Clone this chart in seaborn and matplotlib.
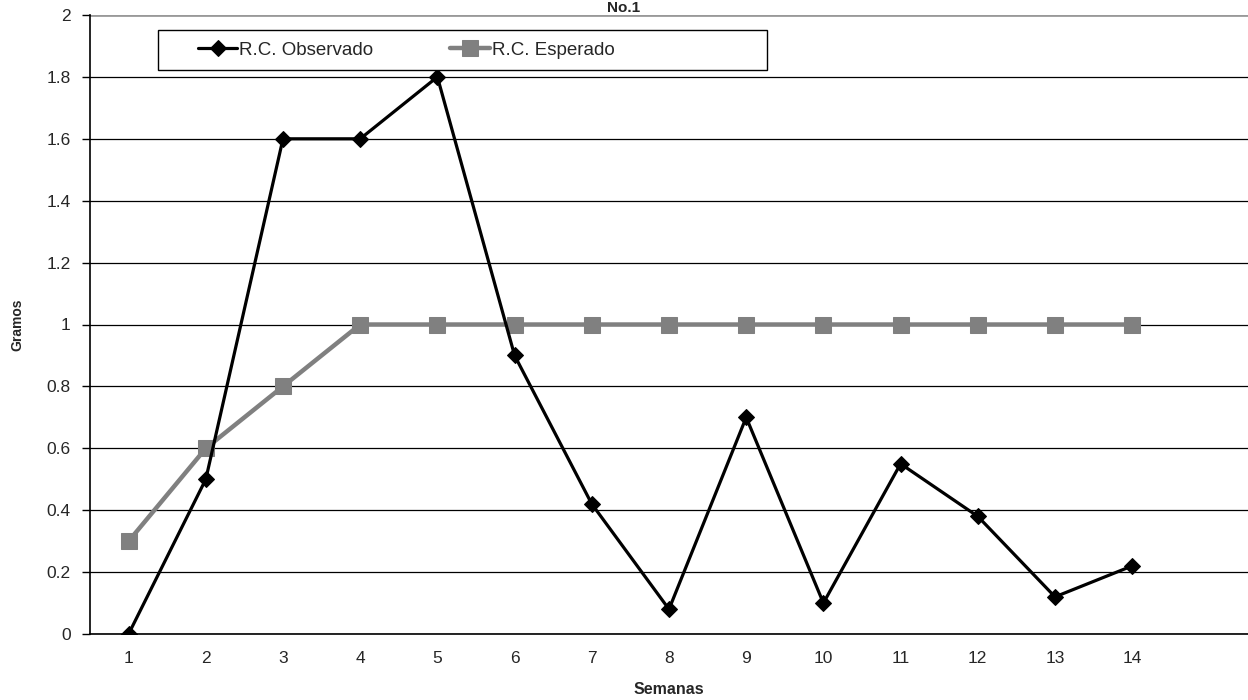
import pandas as pd
import seaborn as sns
import matplotlib.pyplot as plt
from matplotlib.patches import Rectangle

semanas = list(range(1, 15))
observado = [0, 0.5, 1.6, 1.6, 1.8, 0.9, 0.42, 0.08, 0.7, 0.1, 0.55, 0.38, 0.12, 0.22]
esperado = [0.3, 0.6, 0.8, 1, 1, 1, 1, 1, 1, 1, 1, 1, 1, 1]
y_ticks = [0, 0.2, 0.4, 0.6, 0.8, 1, 1.2, 1.4, 1.6, 1.8, 2]
y_labels = ["0", "0.2", "0.4", "0.6", "0.8", "1", "1.2", "1.4", "1.6", "1.8", "2"]

df = pd.DataFrame({"semana": semanas, "obs": observado, "esp": esperado})

sns.set_style("white")
plt.rcParams["font.family"] = ["Liberation Sans", "DejaVu Sans"]

fig = plt.figure(figsize=(12.48, 7), dpi=100)
ax = fig.add_axes([90 / 1248, 66 / 700, 1158 / 1248, 619 / 700])

# grid lines
for v in y_ticks[:-1]:
    ax.axhline(v, color="black", lw=0.9, zorder=0)
ax.axhline(2, color="#999999", lw=2, zorder=0)

sns.lineplot(data=df, x="semana", y="obs", ax=ax, color="black", lw=2.3,
             marker="D", markersize=8, markeredgecolor="black",
             label="R.C. Observado", zorder=3)
sns.lineplot(data=df, x="semana", y="esp", ax=ax, color="#808080", lw=3.2,
             marker="s", markersize=11, markeredgecolor="#808080",
             label="R.C. Esperado", zorder=2)

ax.set_xlim(0.5, 15.5)
ax.set_ylim(0, 2)
ax.set_yticks(y_ticks)
ax.set_yticklabels(y_labels, fontsize=12.5)
ax.set_xticks(semanas)
ax.set_xticklabels([str(s) for s in semanas], fontsize=12.5)
ax.set_xticks([k + 0.5 for k in range(0, 15)], minor=True)
ax.tick_params(axis="x", which="major", length=0, pad=12)
ax.tick_params(axis="x", which="minor", length=6, width=1, color="black", direction="out")
ax.tick_params(axis="y", length=6, width=1, color="black", direction="out", left=True, pad=8)

for s in ["top", "right"]:
    ax.spines[s].set_visible(False)
ax.spines["left"].set_color("black")
ax.spines["left"].set_linewidth(1.2)
ax.spines["bottom"].set_color("black")
ax.spines["bottom"].set_linewidth(1.2)

ax.set_xlabel("Semanas", fontsize=11.5, fontweight="bold", labelpad=12)
ax.set_ylabel("Gramos", fontsize=10, fontweight="bold", labelpad=16)

# legend box drawn separately so the padding matches the reference
ax.add_patch(Rectangle((0.0587, 0.911), 0.526, 0.065, transform=ax.transAxes,
                       facecolor="white", edgecolor="black", lw=1.0, zorder=4))
leg = ax.legend(loc="center left", bbox_to_anchor=((198 - 90) / 1158, (634 - 50) / 619),
                ncol=2, fontsize=13.5, frameon=False, handlelength=2.1,
                handletextpad=0.1, columnspacing=4.1, borderpad=0, borderaxespad=0)
leg.set_zorder(5)

fig.text(0.5, 0.999, "No.1", ha="center", va="top", fontsize=11, fontweight="bold")

fig.savefig("out.png", dpi=100, facecolor="white")
